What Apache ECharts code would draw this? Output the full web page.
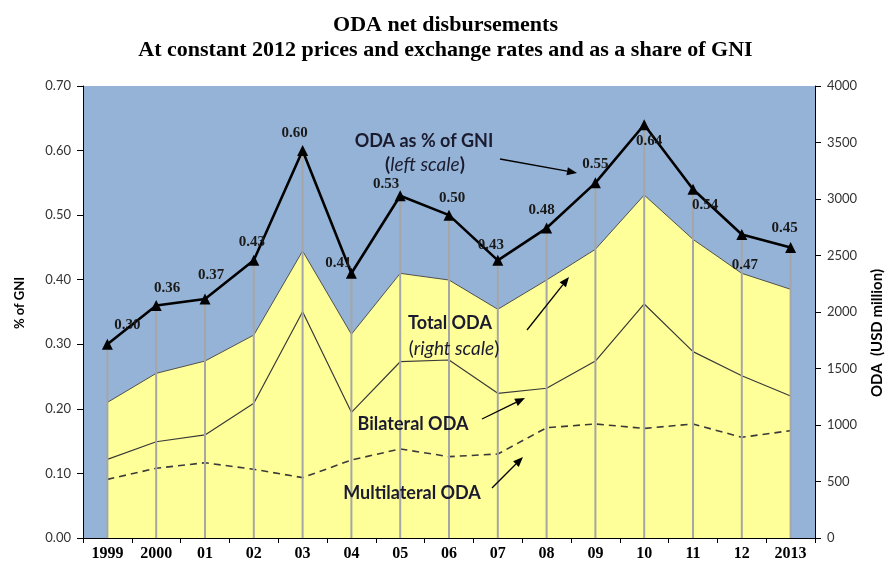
<!DOCTYPE html>
<html>
<head>
<meta charset="utf-8">
<script src="https://cdn.jsdelivr.net/npm/echarts@6/dist/echarts.min.js"></script>
<style>html,body{margin:0;padding:0;background:#fff}#c{width:891px;height:564px}</style>
</head>
<body>
<div id="c"></div>
<script>
const years = ['1999','2000','01','02','03','04','05','06','07','08','09','10','11','12','2013'];
const odaGniPct = [0.30,0.36,0.37,0.43,0.60,0.41,0.53,0.50,0.43,0.48,0.55,0.64,0.54,0.47,0.45];
const totalOda = [1200,1457,1566,1796,2540,1803,2342,2283,2024,2283,2555,3035,2643,2342,2201];
const bilateralOda = [696,852,912,1192,2003,1112,1560,1575,1280,1325,1566,2071,1649,1436,1257];
const multilateralOda = [519,617,666,608,534,690,788,720,743,976,1009,970,1009,891,950];
const leftTicks = {min:0, max:0.7, interval:0.1};
const rightTicks = {min:0, max:4000, interval:500};

// label placement (style only)
const labelOffsets = [[20,-19],[11,-17],[6,-24],[-2,-18],[-8,-17],[-13,-10],[-14,-12],[3,-17],[-7,-15],[-5,-18],[0,-19],[5,16],[12,16],[3,31],[-6,-19]];

const chart = echarts.init(document.getElementById('c'));
const navy = '#1b1b30';
const annFont = 'Lato, "Noto Sans", sans-serif';

function arrow(x1,y1,x2,y2){
  const a = Math.atan2(y2-y1,x2-x1), L=10, W=4;
  const bx = x2 - L*Math.cos(a), by = y2 - L*Math.sin(a);
  const px = -Math.sin(a)*W, py = Math.cos(a)*W;
  return [
    {type:'line', shape:{x1:x1,y1:y1,x2:bx,y2:by}, style:{stroke:'#000', lineWidth:1.3}, z:100},
    {type:'polygon', shape:{points:[[x2,y2],[bx+px,by+py],[bx-px,by-py]]}, style:{fill:'#000'}, z:100}
  ];
}
function txt(x,y,t,opts){
  return Object.assign({type:'text', x:x, y:y, z:100, style:Object.assign({text:t, fill:navy, font:'bold 18px '+annFont, align:'center', verticalAlign:'middle'}, opts||{})});
}

const graphics = [
  txt(424,141,'ODA as % of GNI'),
  {type:'text', x:425, y:165, z:100, style:{text:'{b|(}{i|left scale}{b|)}', align:'center', verticalAlign:'middle', rich:{b:{font:'bold 19px '+annFont, fill:navy}, i:{font:'italic 19px '+annFont, fill:navy}}}},
  txt(450,323,'Total ODA'),
  {type:'text', x:454, y:349, z:100, style:{text:'{b|(}{i|right scale}{b|)}', align:'center', verticalAlign:'middle', rich:{b:{font:'19px '+annFont, fill:navy}, i:{font:'italic 19px '+annFont, fill:navy}}}},
  txt(413,424,'Bilateral ODA'),
  txt(412,493,'Multilateral ODA'),
  {type:'text', x:20, y:303, rotation:Math.PI/2, z:100, style:{text:'% of GNI', font:'bold 13px '+annFont, fill:'#000', align:'center', verticalAlign:'middle'}},
  {type:'text', x:877, y:333, rotation:Math.PI/2, z:100, style:{text:'ODA  (USD million)', font:'bold 15px '+annFont, fill:'#000', align:'center', verticalAlign:'middle'}}
].concat(arrow(500,159,577,173), arrow(527,330,569,277), arrow(482,419,525,398), arrow(492,488,523,457));

const option = {
  animation:false,
  backgroundColor:'#ffffff',
  title:{
    text:'ODA net disbursements\nAt constant 2012 prices and exchange rates and as a share of GNI',
    left:'center', top:8,
    textStyle:{fontFamily:'"Liberation Serif", "Times New Roman", serif', fontWeight:'bold', fontSize:22, lineHeight:25, color:'#000'}
  },
  grid:{left:83, right:76, top:86, bottom:26, show:true, backgroundColor:'#95B3D7', borderWidth:0},
  xAxis:{
    type:'category', data:years, boundaryGap:true,
    axisLine:{lineStyle:{color:'#000', width:1}},
    axisTick:{show:true, length:5, inside:false, lineStyle:{color:'#000'}},
    axisLabel:{fontFamily:'"Liberation Serif", serif', fontWeight:'bold', fontSize:16, color:'#000', margin:8, interval:0},
    splitLine:{show:false}
  },
  yAxis:[
    {type:'value', min:leftTicks.min, max:leftTicks.max, interval:leftTicks.interval, position:'left',
     axisLine:{show:true, lineStyle:{color:'#000'}}, axisTick:{show:true, length:6, lineStyle:{color:'#000'}},
     axisLabel:{formatter:v=>v.toFixed(2), fontFamily:annFont, fontSize:13, color:'#333', margin:12},
     splitLine:{show:false}},
    {type:'value', min:rightTicks.min, max:rightTicks.max, interval:rightTicks.interval, position:'right',
     axisLine:{show:true, lineStyle:{color:'#000'}}, axisTick:{show:true, length:6, lineStyle:{color:'#000'}},
     axisLabel:{formatter:v=>String(v), fontFamily:annFont, fontSize:13, color:'#333', margin:12},
     splitLine:{show:false}}
  ],
  graphic:graphics,
  series:[
    {name:'Total ODA', type:'line', yAxisIndex:1, data:totalOda, symbol:'none', z:1,
     lineStyle:{color:'#505050', width:1}, areaStyle:{color:'#FFFF99', opacity:1}},
    {name:'Bilateral ODA', type:'line', yAxisIndex:1, data:bilateralOda, symbol:'none', z:2,
     lineStyle:{color:'#3a3a3a', width:1.2}},
    {name:'Multilateral ODA', type:'line', yAxisIndex:1, data:multilateralOda, symbol:'none', z:2,
     lineStyle:{color:'#3a3a3a', width:1.6, type:[7,5]}},
    {name:'drop', type:'bar', yAxisIndex:0, data:odaGniPct, barWidth:2, z:3,
     itemStyle:{color:'#A6A6A6'}, silent:true},
    {name:'ODA as % of GNI', type:'line', yAxisIndex:0, z:5,
     data:odaGniPct.map((v,i)=>({value:v, label:{offset:labelOffsets[i]}})),
     symbol:'triangle', symbolSize:11, itemStyle:{color:'#000'},
     lineStyle:{color:'#000', width:2.6},
     label:{show:true, position:'inside', formatter:p=>p.value.toFixed(2), fontFamily:'"Liberation Serif", serif', fontWeight:'bold', fontSize:15, color:'#1a1a1a'}}
  ]
};
chart.setOption(option);
</script>
</body>
</html>
